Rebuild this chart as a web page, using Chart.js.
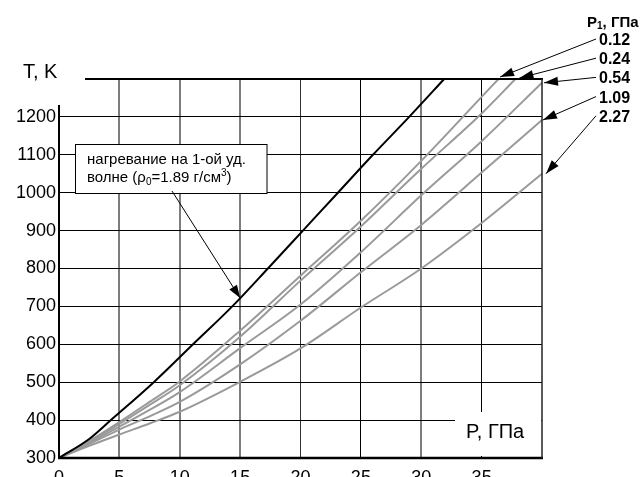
<!DOCTYPE html>
<html><head><meta charset="utf-8">
<script src="https://cdn.jsdelivr.net/npm/chart.js@4/dist/chart.umd.min.js"></script>
<style>
html,body{margin:0;padding:0;background:#fff;overflow:hidden;}
#wrap{position:relative;width:644px;height:492px;}
</style></head><body>
<div id="wrap"><canvas id="c" width="644" height="492"></canvas></div>
<script>
// ---- data ----
const seriesLabels = ['0.12', '0.24', '0.54', '1.09', '2.27'];   // P1, GPa
const P_black = [0, 2.5, 4.3, 7.85, 11.1, 14.35, 17.3, 20.2, 23.1, 26.0, 29.0, 31.9];
const T_black = [300, 350, 400, 500, 600, 700, 800, 900, 1000, 1100, 1200, 1300];
const P_012 = [0, 2.5, 5, 7.5, 10, 15, 20, 25, 30, 35, 36.4];
const T_012 = [300, 345, 395, 448, 502, 636, 781, 926, 1084, 1253, 1300];
const P_024 = [0, 2.5, 5, 7.5, 10, 15, 20, 25, 30, 35, 37.8];
const T_024 = [300, 343, 390, 440, 492, 620, 768, 911, 1063, 1209, 1300];
const P_054 = [0, 2.5, 5, 7.5, 10, 15, 20, 25, 30, 35, 40];
const T_054 = [300, 340, 383, 427, 474, 590, 705, 843, 993, 1136, 1290];
const P_109 = [0, 2.5, 5, 7.5, 10, 15, 20, 25, 30, 35, 40];
const T_109 = [300, 337, 375, 410, 448, 547, 662, 790, 915, 1053, 1192];
const P_227 = [0, 2.5, 5, 7.5, 10, 15, 20, 25, 30, 35, 40];
const T_227 = [300, 332, 362, 391, 422, 501, 589, 697, 800, 920, 1050];
const xTicks = [0, 5, 10, 15, 20, 25, 30, 35];
const yTicks = [300, 400, 500, 600, 700, 800, 900, 1000, 1100, 1200];
const blackArrowTarget = {x: 15, y: 722};

const pts = (P, T) => P.map((x, i) => ({x: x, y: T[i]}));
const FONT = '"Liberation Sans", Arial, sans-serif';

const grayCurves = [[P_012, T_012], [P_024, T_024], [P_054, T_054], [P_109, T_109], [P_227, T_227]];
const datasets = [{
  label: 'first', data: pts(P_black, T_black), borderColor: '#000', borderWidth: 2,
  pointRadius: 0, cubicInterpolationMode: 'monotone', fill: false, clip: false
}].concat(grayCurves.map((c, i) => ({
  label: seriesLabels[i], data: pts(c[0], c[1]), borderColor: '#9a9a9a', borderWidth: 2,
  pointRadius: 0, cubicInterpolationMode: 'monotone', fill: false, clip: false
})));

function arrow(ctx, x1, y1, x2, y2, len, half) {
  ctx.beginPath(); ctx.moveTo(x1, y1); ctx.lineTo(x2, y2); ctx.stroke();
  const a = Math.atan2(y2 - y1, x2 - x1);
  ctx.beginPath();
  ctx.moveTo(x2, y2);
  ctx.lineTo(x2 - len * Math.cos(a) + half * Math.sin(a), y2 - len * Math.sin(a) - half * Math.cos(a));
  ctx.lineTo(x2 - len * Math.cos(a) - half * Math.sin(a), y2 - len * Math.sin(a) + half * Math.cos(a));
  ctx.closePath(); ctx.fill();
}

const deco = {
  id: 'deco',
  afterDatasetsDraw(chart) {
    const ctx = chart.ctx, xs = chart.scales.x, ys = chart.scales.y, ca = chart.chartArea;
    ctx.save();
    // mask behind "P, ГПа"
    ctx.fillStyle = '#fff';
    ctx.fillRect(455, 412, 86, 44);
    ctx.fillStyle = '#000';
    ctx.font = '20px ' + FONT;
    ctx.textBaseline = 'alphabetic';
    ctx.fillText('P, ГПа', 466, 437.5);
    ctx.fillText('T, K', 23, 77.5);

    // annotation box
    ctx.fillStyle = '#fff';
    ctx.fillRect(76, 144.5, 191, 49);
    ctx.strokeStyle = '#000'; ctx.lineWidth = 1;
    ctx.strokeRect(75.5, 144.5, 191.5, 49);
    ctx.fillStyle = '#000';
    ctx.font = '15px ' + FONT;
    ctx.fillText('нагревание на 1-ой уд.', 87, 164);
    let x = 87, y = 182;
    const put = (t, f, dy) => { ctx.font = f; ctx.fillText(t, x, y + dy); x += ctx.measureText(t).width; };
    put('волне (ρ', '15px ' + FONT, 0);
    put('0', '10px ' + FONT, 3);
    put('=1.89 г/см', '15px ' + FONT, 0);
    put('3', '10px ' + FONT, -6);
    put(')', '15px ' + FONT, 0);

    // axes / frame
    ctx.strokeStyle = '#000';
    ctx.lineWidth = 2;
    ctx.beginPath(); ctx.moveTo(ca.left, 105); ctx.lineTo(ca.left, ca.bottom + 1); ctx.stroke();
    ctx.lineWidth = 2.5;
    ctx.beginPath(); ctx.moveTo(ca.left - 1, ca.bottom); ctx.lineTo(ca.right + 1, ca.bottom); ctx.stroke();
    ctx.lineWidth = 2;
    ctx.beginPath(); ctx.moveTo(85, ca.top); ctx.lineTo(ca.right + 1, ca.top); ctx.stroke();
    ctx.lineWidth = 1.5; ctx.strokeStyle = '#222';
    ctx.beginPath(); ctx.moveTo(ca.right, ca.top); ctx.lineTo(ca.right, ca.bottom); ctx.stroke();

    // arrow to first-wave curve
    ctx.strokeStyle = '#000'; ctx.fillStyle = '#000'; ctx.lineWidth = 1;
    arrow(ctx, 172, 191, xs.getPixelForValue(blackArrowTarget.x), ys.getPixelForValue(blackArrowTarget.y), 13, 4.5);

    // P1 legend
    ctx.font = 'bold 15px ' + FONT;
    let lx = 587;
    ctx.fillText('P', lx, 26.5); lx += ctx.measureText('P').width;
    ctx.font = 'bold 10px ' + FONT;
    ctx.fillText('1', lx, 29); lx += ctx.measureText('1').width;
    ctx.font = 'bold 15px ' + FONT;
    ctx.fillText(', ГПа', lx, 26.5);
    ctx.font = 'bold 16px ' + FONT;
    const offs = [[1.5, -2], [4, -1], [2, 0], [1, 0], [4, 0]];
    grayCurves.forEach((c, i) => {
      const by = 45 + i * 19.2;
      ctx.fillText(seriesLabels[i], 599, by);
      const n = c[0].length - 1;
      const tx = xs.getPixelForValue(c[0][n]) + offs[i][0];
      const ty = ys.getPixelForValue(c[1][n]) + offs[i][1];
      arrow(ctx, 596, by - 6, tx, ty, 14, 4.5);
    });
    ctx.restore();
  }
};

const xGridColor = v => (v === 0 || v === 40) ? 'rgba(0,0,0,0)' : ([5, 10, 15, 30].includes(v) ? '#7d7d7d' : (v === 20 ? '#333' : '#000'));
const xGridWidth = v => [5, 10, 15, 30].includes(v) ? 2 : 1;

new Chart(document.getElementById('c'), {
  type: 'line',
  data: {datasets: datasets},
  options: {
    responsive: false, animation: false, devicePixelRatio: 1,
    layout: {padding: {left: 0, top: 79, right: 102, bottom: 4}},
    plugins: {legend: {display: false}, tooltip: {enabled: false}},
    scales: {
      x: {
        type: 'linear', min: 0, max: 40,
        afterBuildTicks: s => { s.ticks = xTicks.concat([40]).map(v => ({value: v})); },
        afterFit: s => { s.height = 30; },
        border: {display: false},
        grid: {drawTicks: false, color: c => xGridColor(c.tick.value), lineWidth: c => xGridWidth(c.tick.value)},
        ticks: {padding: 9, color: '#000', font: {family: FONT, size: 18}, maxRotation: 0,
                callback: v => xTicks.includes(v) ? String(v) : ''}
      },
      y: {
        type: 'linear', min: 300, max: 1300,
        afterBuildTicks: s => { s.ticks = yTicks.concat([1300]).map(v => ({value: v})); },
        afterFit: s => { s.width = 59; },
        border: {display: false},
        grid: {drawTicks: false, color: c => (c.tick.value === 300 || c.tick.value === 1300) ? 'rgba(0,0,0,0)' : '#000', lineWidth: 1},
        ticks: {padding: 3, color: '#000', font: {family: FONT, size: 18},
                callback: v => yTicks.includes(v) ? String(v) : ''}
      }
    }
  },
  plugins: [deco]
});
</script>
</body></html>
